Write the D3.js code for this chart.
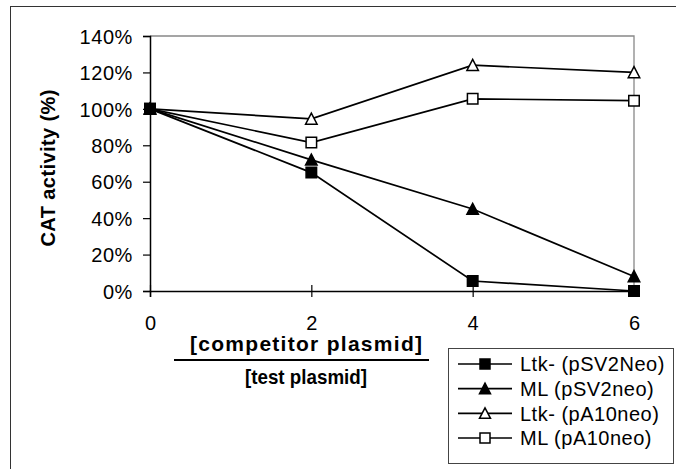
<!DOCTYPE html>
<html>
<head>
<meta charset="utf-8">
<script src="https://cdn.jsdelivr.net/npm/d3@7"></script>
<style>
  html, body { margin: 0; padding: 0; background: #fff; }
  svg { display: block; }
  text { font-family: "Liberation Sans", Arial, sans-serif; fill: #000; }
</style>
</head>
<body>
<svg id="chart" width="676" height="469"></svg>
<script>
// ---- data ----
const xValues = [0, 2, 4, 6];
const seriesNames = ["Ltk- (pSV2Neo)", "ML (pSV2neo)", "Ltk- (pA10neo)", "ML (pA10neo)"];
const ltkPSV2Neo = [1.00, 0.65, 0.055, 0.00];
const mlPSV2neo  = [1.00, 0.72, 0.45, 0.08];
const ltkPA10neo = [1.00, 0.945, 1.24, 1.20];
const mlPA10neo  = [1.00, 0.815, 1.055, 1.045];
const yTicks = [0, 0.2, 0.4, 0.6, 0.8, 1.0, 1.2, 1.4];
const xTicks = [0, 2, 4, 6];
const yTitle = "CAT activity (%)";
const xTitleTop = "[competitor plasmid]";
const xTitleBottom = "[test plasmid]";

const seriesValues = [ltkPSV2Neo, mlPSV2neo, ltkPA10neo, mlPA10neo];
const markerShapes = ["square", "triangle", "triangle", "square"];
const markerFilled = [true, true, false, false];

const svg = d3.select("#chart");

// outer chart border (cut off on right/bottom)
svg.append("rect")
  .attr("x", 10.5).attr("y", 6.5)
  .attr("width", 700).attr("height", 500)
  .attr("fill", "none").attr("stroke", "#333").attr("stroke-width", 1);

const x = d3.scaleLinear().domain([0, 6]).range([150, 634]);
const y = d3.scaleLinear().domain([0, 1.4]).range([291, 36]);

// plot area border (gray)
svg.append("path")
  .attr("d", `M${x(0)},${y(1.4)}H${x(6)}V${y(0)}`)
  .attr("fill", "none").attr("stroke", "#888").attr("stroke-width", 1.3);

// y axis
const yAxis = d3.axisLeft(y).tickValues(yTicks).tickSize(7).tickPadding(10)
  .tickFormat(d3.format(".0%"));
const gy = svg.append("g").attr("transform", `translate(${x(0)},0)`).call(yAxis);
gy.select(".domain").attr("stroke", "#000").attr("stroke-width", 1.5);
gy.selectAll(".tick line").attr("stroke", "#000").attr("stroke-width", 1.2);
gy.selectAll(".tick text")
  .attr("font-size", 20).attr("font-family", "Liberation Sans, Arial, sans-serif")
  .attr("letter-spacing", "0.6px").attr("dy", "0.36em").attr("x", -17);

// x axis: ticks crossing
const xAxis = d3.axisBottom(x).tickValues(xTicks).tickSize(6).tickPadding(20)
  .tickFormat(d3.format("d"));
const gx = svg.append("g").attr("transform", `translate(0,${y(0)})`).call(xAxis);
gx.select(".domain").attr("stroke", "#000").attr("stroke-width", 1.5);
gx.selectAll(".tick line").attr("y1", -6).attr("y2", 6).attr("stroke", "#000").attr("stroke-width", 1.2);
gx.selectAll(".tick text")
  .attr("font-size", 20).attr("font-family", "Liberation Sans, Arial, sans-serif")
  .attr("y", 39).attr("dy", 0);

// marker path generator
function markerPath(shape, s) {
  const h = s / 2;
  if (shape === "square") {
    return `M${-h},${-h}H${h}V${h}H${-h}Z`;
  }
  return `M0,${-h - 0.5}L${h + 0.5},${h}L${-h - 0.5},${h}Z`;
}

const line = d3.line().x((d, i) => x(xValues[i])).y(d => y(d));

// lines
seriesValues.forEach((vals) => {
  svg.append("path")
    .attr("d", line(vals))
    .attr("fill", "none").attr("stroke", "#000").attr("stroke-width", 1.7);
});

// markers, drawn in reverse so the first series sits on top
seriesValues.slice().reverse().forEach((vals, rk) => {
  const k = seriesValues.length - 1 - rk;
  svg.append("g").selectAll("path")
    .data(vals)
    .join("path")
    .attr("transform", (d, i) => `translate(${x(xValues[i])},${y(d)})`)
    .attr("d", markerPath(markerShapes[k], 10.5))
    .attr("fill", markerFilled[k] ? "#000" : "#fff")
    .attr("stroke", "#000").attr("stroke-width", 1.5);
});

// y axis title
svg.append("text")
  .attr("transform", "translate(55,168) rotate(-90)")
  .attr("text-anchor", "middle")
  .attr("font-size", 20).attr("font-weight", "bold")
  .attr("textLength", 157).attr("lengthAdjust", "spacing")
  .text(yTitle);

// x axis title (fraction)
svg.append("text")
  .attr("x", 306).attr("y", 351)
  .attr("text-anchor", "middle")
  .attr("font-size", 21).attr("font-weight", "bold")
  .attr("textLength", 232).attr("lengthAdjust", "spacing")
  .text(xTitleTop);
svg.append("line")
  .attr("x1", 174).attr("x2", 429).attr("y1", 360).attr("y2", 360)
  .attr("stroke", "#000").attr("stroke-width", 2);
svg.append("text")
  .attr("x", 306).attr("y", 384)
  .attr("text-anchor", "middle")
  .attr("font-size", 21).attr("font-weight", "bold")
  .attr("textLength", 122).attr("lengthAdjust", "spacingAndGlyphs")
  .text(xTitleBottom);

// legend
const legend = svg.append("g");
legend.append("rect")
  .attr("x", 448.5).attr("y", 348.5).attr("width", 225).attr("height", 115)
  .attr("fill", "#fff").attr("stroke", "#444").attr("stroke-width", 1);
const rowY = d3.scalePoint().domain(seriesNames).range([364, 438]);
seriesNames.forEach((name, k) => {
  const ry = rowY(name);
  legend.append("line")
    .attr("x1", 458).attr("x2", 512).attr("y1", ry).attr("y2", ry)
    .attr("stroke", "#000").attr("stroke-width", 1.7);
  legend.append("path")
    .attr("transform", `translate(485,${ry})`)
    .attr("d", markerPath(markerShapes[k], 10))
    .attr("fill", markerFilled[k] ? "#000" : "#fff")
    .attr("stroke", "#000").attr("stroke-width", 1.5);
  legend.append("text")
    .attr("x", 520).attr("y", ry).attr("dy", "0.36em")
    .attr("font-size", 20).attr("letter-spacing", "0.5px")
    .text(name);
});
</script>
</body>
</html>
